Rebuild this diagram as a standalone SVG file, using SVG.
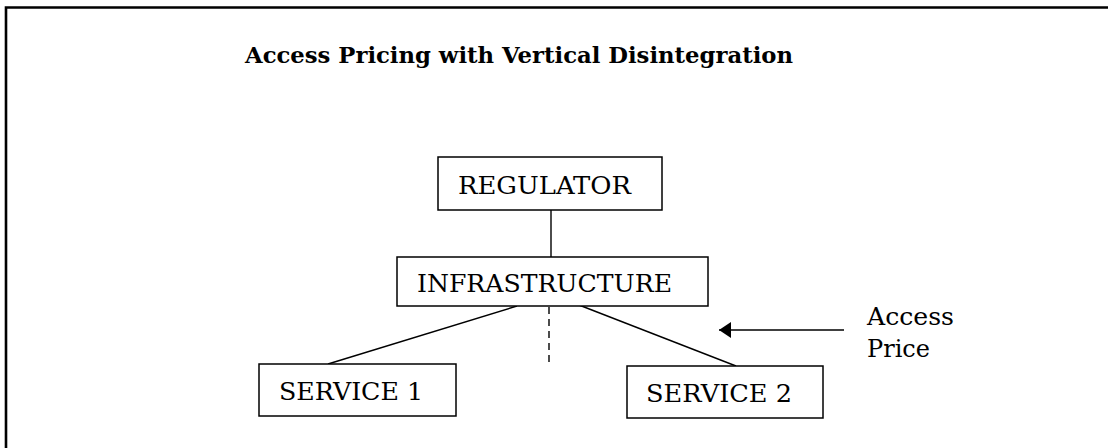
<svg xmlns="http://www.w3.org/2000/svg" width="1108" height="448" viewBox="0 0 1108 448">
  <style>
    .box { fill: #ffffff; stroke: #000000; stroke-width: 1.5; }
    .lbl { font-family: "DejaVu Serif", "Liberation Serif", serif; font-size: 24.5px; fill: #000000; }
    .title { font-family: "DejaVu Serif", "Liberation Serif", serif; font-size: 23px; font-weight: bold; fill: #000000; }
    .link { stroke: #000000; stroke-width: 1.4; fill: none; }
  </style>
  <defs>
    <marker id="arrowhead" markerWidth="12" markerHeight="16" refX="12" refY="8" orient="auto" markerUnits="userSpaceOnUse">
      <path d="M0,0 L12,8 L0,16 Z" fill="#000000"/>
    </marker>
  </defs>
  <rect x="0" y="0" width="1108" height="448" fill="#ffffff"/>

  <!-- frame: top and left edges -->
  <path d="M6,448 L6,7.5 L1108,7.5" fill="none" stroke="#000000" stroke-width="2.6"/>

  <text class="title" x="245" y="63" textLength="548" lengthAdjust="spacingAndGlyphs">Access Pricing with Vertical Disintegration</text>

  <g id="connectors">
    <line class="link" x1="551" y1="210" x2="551" y2="257"/>
    <line class="link" x1="517" y1="306" x2="328" y2="364"/>
    <line class="link" x1="579" y1="305" x2="736" y2="366"/>
    <line class="link" x1="549" y1="307" x2="549" y2="363" stroke-dasharray="7,5"/>
    <line class="link" x1="844" y1="330" x2="719" y2="330" marker-end="url(#arrowhead)"/>
  </g>

  <g id="regulator">
    <rect class="box" x="438" y="157" width="224" height="53"/>
    <text class="lbl" x="458" y="194" textLength="173" lengthAdjust="spacingAndGlyphs">REGULATOR</text>
  </g>

  <g id="infrastructure">
    <rect class="box" x="397" y="257" width="311" height="49"/>
    <text class="lbl" x="417" y="292" textLength="255" lengthAdjust="spacingAndGlyphs">INFRASTRUCTURE</text>
  </g>

  <g id="service1">
    <rect class="box" x="259" y="364" width="197" height="52"/>
    <text class="lbl" x="279" y="400" textLength="144" lengthAdjust="spacingAndGlyphs">SERVICE 1</text>
  </g>

  <g id="service2">
    <rect class="box" x="627" y="366" width="196" height="52"/>
    <text class="lbl" x="646" y="402" textLength="146" lengthAdjust="spacingAndGlyphs">SERVICE 2</text>
  </g>

  <g id="access-price">
    <text class="lbl" x="867" y="325" textLength="87" lengthAdjust="spacingAndGlyphs">Access</text>
    <text class="lbl" x="867" y="357" textLength="63" lengthAdjust="spacingAndGlyphs">Price</text>
  </g>
</svg>
